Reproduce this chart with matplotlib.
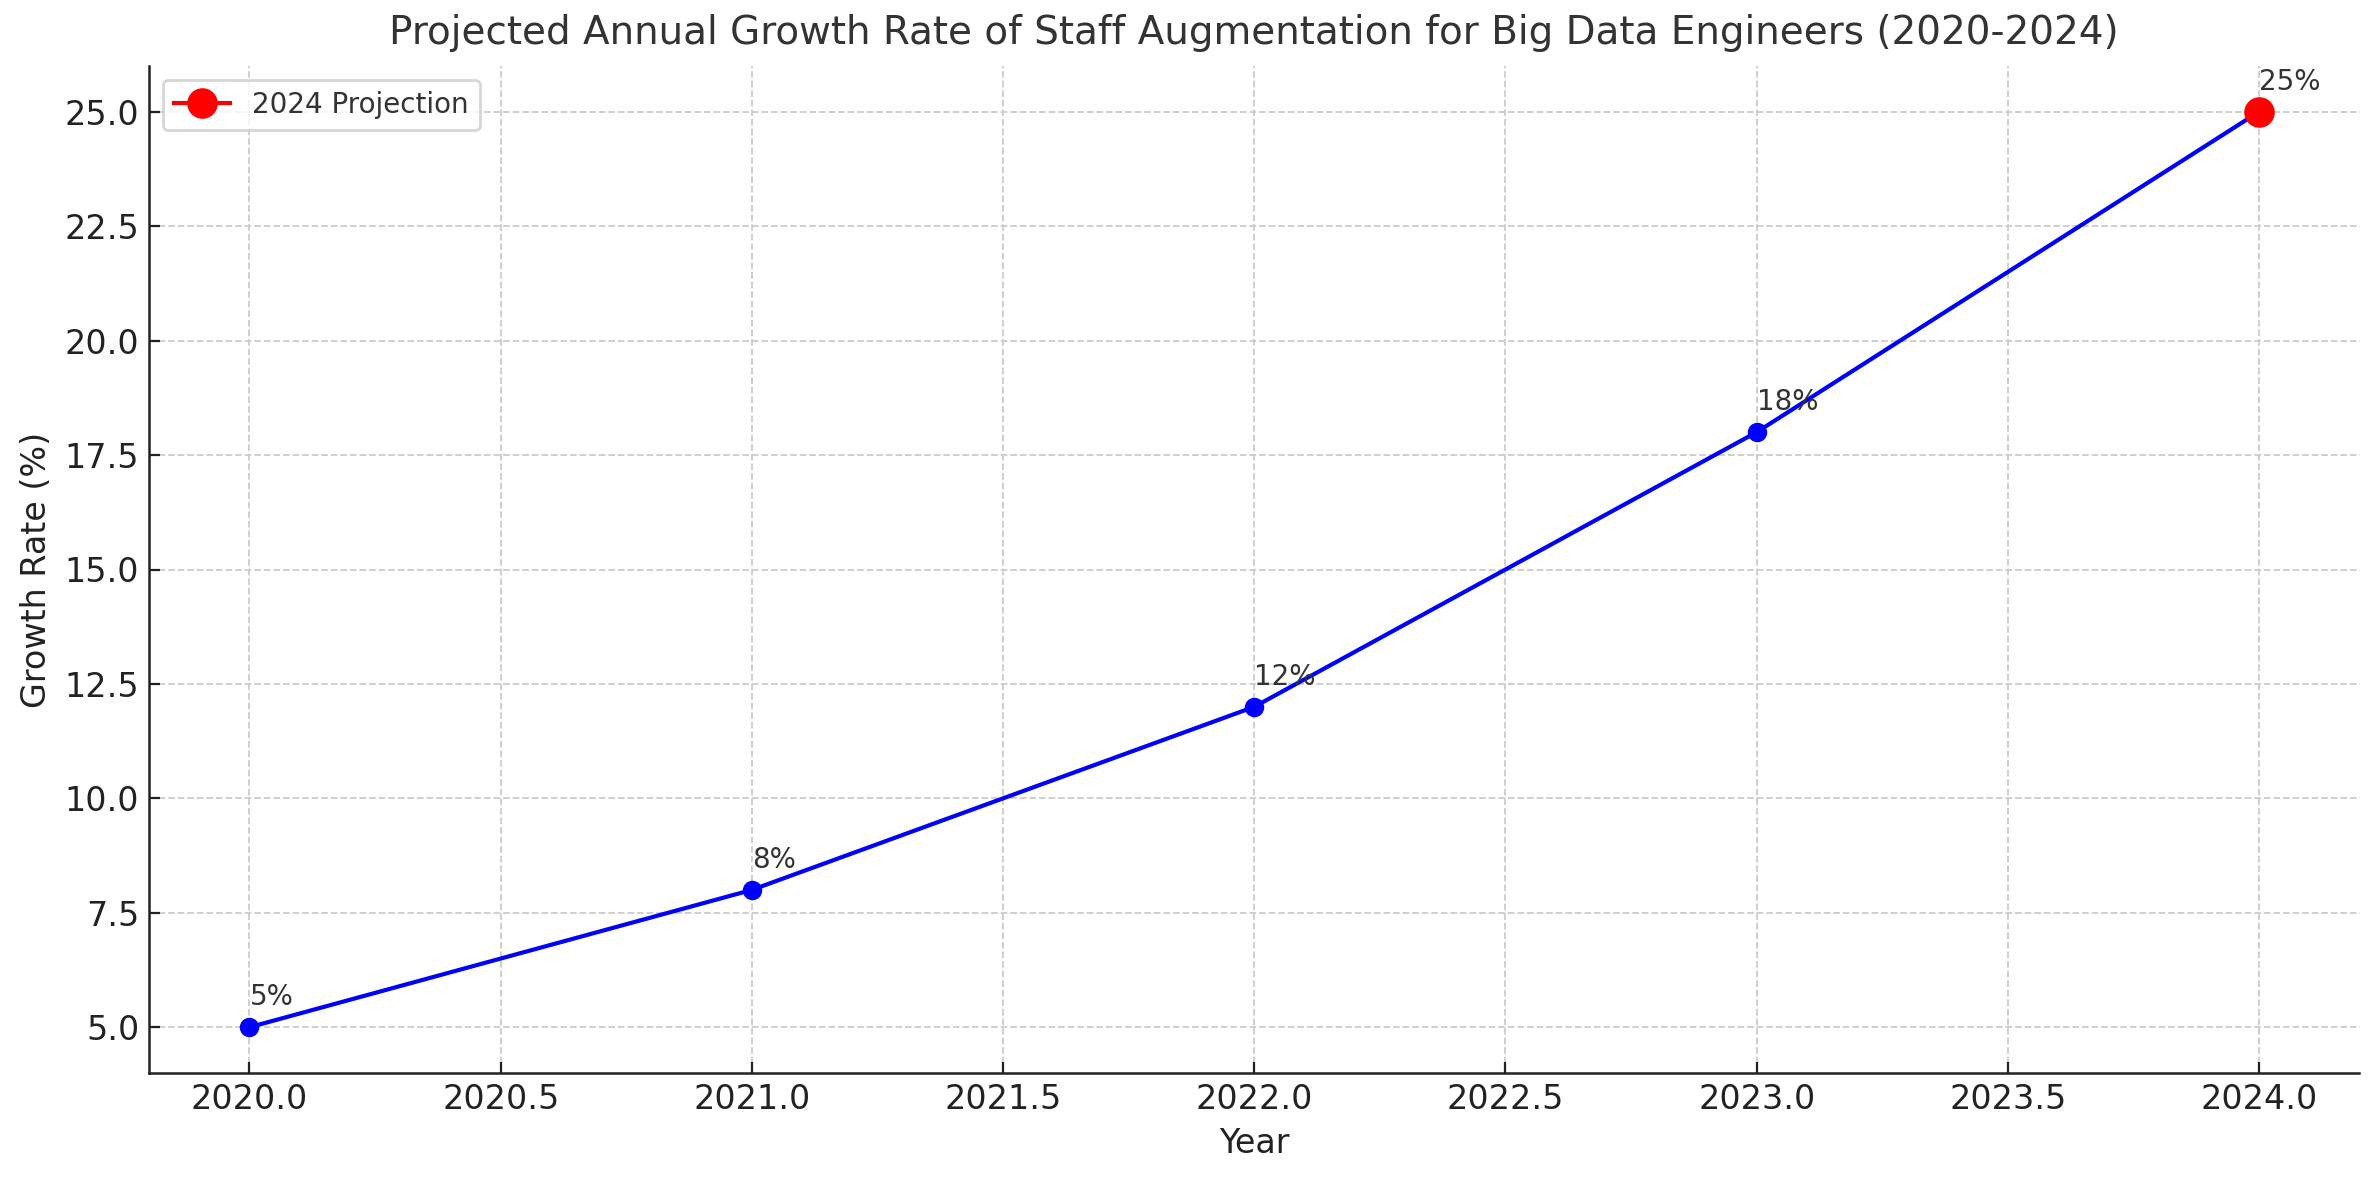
import matplotlib
matplotlib.use("Agg")
import matplotlib.pyplot as plt

years = [2020, 2021, 2022, 2023, 2024]
growth = [5, 8, 12, 18, 25]
labels = ["5%", "8%", "12%", "18%", "25%"]
proj_year = [2024]
proj_value = [25]

plt.rcParams['font.family'] = ['DejaVu Sans']

fig = plt.figure(figsize=(2379/200, 1180/200), dpi=200)
ax = fig.add_axes([149/2379, 1-1073/1180, (2359.5-149)/2379, (1073-66)/1180])

ax.plot(years, growth, marker='o', color='blue', linewidth=1.5, markersize=6)
ax.plot(proj_year, proj_value, marker='o', color='red', markersize=10, label='2024 Projection')

for x, y, t in zip(years, growth, labels):
    ax.annotate(t, (x, y), xytext=(0, 8), textcoords='offset points',
                ha='left', va='baseline', fontsize=10, color='#333333')

ax.set_title('Projected Annual Growth Rate of Staff Augmentation for Big Data Engineers (2020-2024)',
             fontsize=14, color='#333333', pad=8)
ax.set_xlabel('Year', fontsize=12, color='#222222')
ax.set_ylabel('Growth Rate (%)', fontsize=12, color='#222222')

ax.grid(True, linestyle='--', color='#cccccc', linewidth=0.65)
ax.set_axisbelow(True)
ax.tick_params(direction='in', labelsize=12, colors='#222222', length=4, width=0.8)
for s in ['top', 'right']:
    ax.spines[s].set_visible(False)
for s in ['left', 'bottom']:
    ax.spines[s].set_color('#222222')
    ax.spines[s].set_linewidth(0.9)

leg = ax.legend(loc='upper left', fontsize=10, frameon=True)
leg.get_frame().set_edgecolor('#cccccc')
for t in leg.get_texts():
    t.set_color('#333333')

fig.savefig('out.png', dpi=200)
